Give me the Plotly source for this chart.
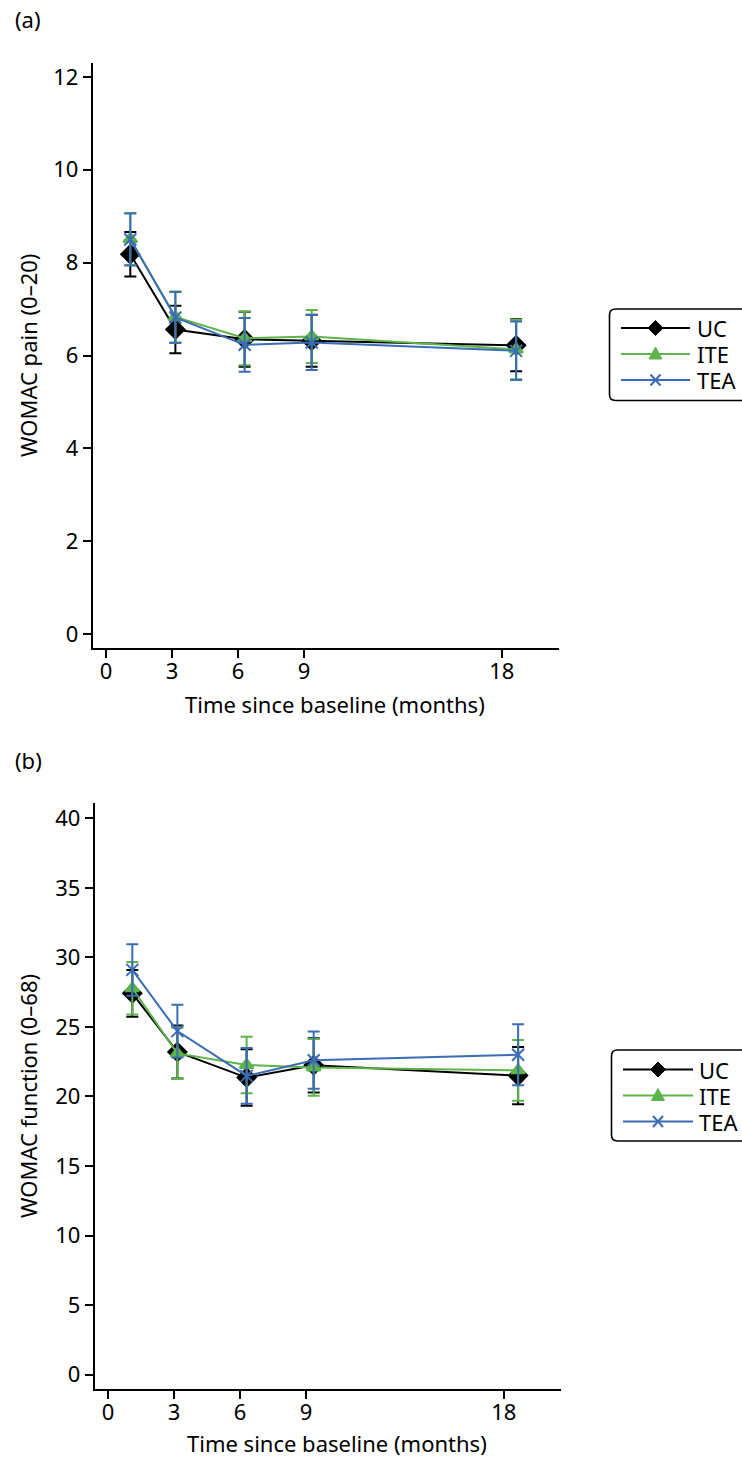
import plotly.graph_objects as go

W, H = 742, 1457

# ---- data ----
time_months = [1.1, 3.15, 6.3, 9.35, 18.65]
x_ticks = [0, 3, 6, 9, 18]
groups = ["UC", "ITE", "TEA"]

uc_pain = [8.18, 6.56, 6.35, 6.32, 6.22]
uc_pain_ci = [0.48, 0.51, 0.59, 0.56, 0.56]
ite_pain = [8.51, 6.83, 6.37, 6.41, 6.13]
ite_pain_ci = [0.56, 0.55, 0.58, 0.57, 0.64]
tea_pain = [8.50, 6.82, 6.23, 6.28, 6.10]
tea_pain_ci = [0.56, 0.55, 0.58, 0.59, 0.63]

uc_func = [27.42, 23.2, 21.36, 22.24, 21.5]
uc_func_ci = [1.68, 1.9, 2.03, 1.95, 2.05]
ite_func = [27.78, 23.1, 22.27, 22.09, 21.88]
ite_func_ci = [1.88, 1.85, 2.03, 2.04, 2.18]
tea_func = [29.1, 24.7, 21.48, 22.61, 23.0]
tea_func_ci = [1.85, 1.9, 2.0, 2.06, 2.2]

pain_yticks = [0, 2, 4, 6, 8, 10, 12]
func_yticks = [0, 5, 10, 15, 20, 25, 30, 35, 40]

colors = {"UC": "#000000", "ITE": "#5DB44A", "TEA": "#3A6DB5"}
symbols = {"UC": "diamond", "ITE": "triangle-up", "TEA": "x-thin"}
msize = {"UC": 14, "ITE": 12, "TEA": 12}

FONT = "Noto Sans"


def px(x):
    return x / W


def py(y):
    return 1 - y / H


fig = go.Figure()

panels = [
    ("x", "y", [uc_pain, ite_pain, tea_pain], [uc_pain_ci, ite_pain_ci, tea_pain_ci]),
    ("x2", "y2", [uc_func, ite_func, tea_func], [uc_func_ci, ite_func_ci, tea_func_ci]),
]

for xa, ya, vals, cis in panels:
    for g, v, ci in zip(groups, vals, cis):
        c = colors[g]
        fig.add_trace(go.Scatter(
            x=time_months, y=v, name=g, xaxis=xa, yaxis=ya,
            mode="lines+markers", showlegend=False,
            line=dict(color=c, width=2),
            marker=dict(symbol=symbols[g], size=msize[g], color=c,
                        line=dict(color=c, width=2)),
            error_y=dict(type="data", array=ci, visible=True, color=c,
                         thickness=2, width=6),
        ))

axis_common = dict(
    showline=True, linecolor="black", linewidth=1.6, mirror=False,
    ticks="outside", ticklen=8, tickwidth=1.6, tickcolor="black",
    showgrid=False, zeroline=False,
    tickfont=dict(family=FONT, size=22, color="black"),
)

fig.update_layout(
    width=W, height=H,
    margin=dict(l=0, r=0, t=0, b=0, autoexpand=False),
    paper_bgcolor="white", plot_bgcolor="white",
    font=dict(family=FONT, size=22, color="black"),
    xaxis=dict(domain=[px(92.5), px(559)], range=[-0.62, 20.6],
               tickvals=x_ticks, anchor="y", ticklabelstandoff=-5, **axis_common),
    yaxis=dict(domain=[py(648), py(63)], range=[-0.3, 12.3],
               tickvals=pain_yticks, anchor="x", **axis_common),
    xaxis2=dict(domain=[px(94.5), px(561)], range=[-0.62, 20.6],
                tickvals=x_ticks, anchor="y2", ticklabelstandoff=-5, **axis_common),
    yaxis2=dict(domain=[py(1389), py(803)], range=[-1.03, 41.1],
                tickvals=func_yticks, anchor="x2", **axis_common),
    showlegend=False,
)


def rounded_rect(x0, y0, x1, y1, r):
    X0, X1 = px(x0), px(x1)
    return (f"M {px(x0 + r)},{py(y0)} L {px(x1 - r)},{py(y0)} "
            f"Q {X1},{py(y0)} {X1},{py(y0 + r)} L {X1},{py(y1 - r)} "
            f"Q {X1},{py(y1)} {px(x1 - r)},{py(y1)} L {px(x0 + r)},{py(y1)} "
            f"Q {X0},{py(y1)} {X0},{py(y1 - r)} L {X0},{py(y0 + r)} "
            f"Q {X0},{py(y0)} {px(x0 + r)},{py(y0)} Z")


def poly(points):
    return "M " + " L ".join(f"{px(x)},{py(y)}" for x, y in points) + " Z"


def legend_glyph(g, cx, cy):
    c = colors[g]
    if g == "UC":
        fig.add_shape(type="path", xref="paper", yref="paper",
                      path=poly([(cx, cy - 7.5), (cx + 7.5, cy), (cx, cy + 7.5), (cx - 7.5, cy)]),
                      line=dict(color=c, width=1), fillcolor=c)
    elif g == "ITE":
        fig.add_shape(type="path", xref="paper", yref="paper",
                      path=poly([(cx, cy - 7), (cx + 6.5, cy + 5), (cx - 6.5, cy + 5)]),
                      line=dict(color=c, width=1), fillcolor=c)
    else:
        for dx in (-5, 5):
            fig.add_shape(type="line", xref="paper", yref="paper",
                          x0=px(cx - dx), y0=py(cy - 5.5), x1=px(cx + dx), y1=py(cy + 5.5),
                          line=dict(color=c, width=2))


ROW_GAP = 26
legends = [
    # box (x0, y0, x1, y1), line x0, line x1, text x, middle row y
    ((609.5, 309, 760, 400.5), 621, 690, 696, 354),
    ((611.5, 1050, 760, 1141), 623, 693, 698, 1095.5),
]
for box, lx0, lx1, tx, mid in legends:
    fig.add_shape(type="path", xref="paper", yref="paper",
                  path=rounded_rect(*box, 6),
                  line=dict(color="black", width=1.6), fillcolor="rgba(0,0,0,0)")
    rows = [mid - ROW_GAP, mid, mid + ROW_GAP]
    for g, ry in zip(groups, rows):
        c = colors[g]
        fig.add_shape(type="line", xref="paper", yref="paper",
                      x0=px(lx0), y0=py(ry), x1=px(lx1), y1=py(ry),
                      line=dict(color=c, width=2))
        legend_glyph(g, (lx0 + lx1) / 2, ry)
    label = "<br>".join(f"<span style='font-size:22px'>{g}</span>" for g in groups)
    fig.add_annotation(text=label, x=px(tx), y=py(mid), xref="paper", yref="paper",
                       showarrow=False, xanchor="left", yanchor="middle", align="left",
                       borderpad=0,
                       font=dict(family=FONT, size=20, color="black"))

annots = [
    ("(a)", 28, 19, 0),
    ("(b)", 28, 760, 0),
    ("Time since baseline (months)", 335, 704, 0),
    ("Time since baseline (months)", 337, 1443, 0),
    ("WOMAC pain (0–20)", 28, 356, -90),
    ("WOMAC function (0–68)", 28, 1096, -90),
]
for text, x, y, ang in annots:
    fig.add_annotation(text=text, x=px(x), y=py(y), xref="paper", yref="paper",
                       showarrow=False, textangle=ang, xanchor="center", yanchor="middle",
                       font=dict(family=FONT, size=22, color="black"))

fig.write_html("out.html", config={"displayModeBar": False},
               post_script="document.body.style.margin='0';document.body.style.padding='0';")
